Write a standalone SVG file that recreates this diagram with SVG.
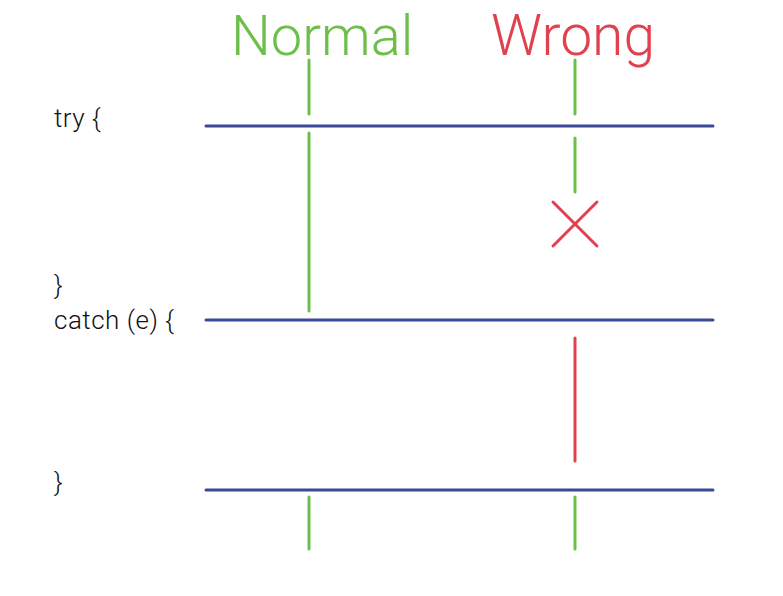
<svg xmlns="http://www.w3.org/2000/svg" width="783" height="596" viewBox="0 0 783 596">
<style>
.h{stroke:#3b4a98;stroke-width:3;stroke-linecap:round;fill:none}
.g{stroke:#6cbf4a;stroke-width:3;stroke-linecap:round;fill:none}
.r{stroke:#e1404f;stroke-width:3;stroke-linecap:round;fill:none}
.code{font-family:Roboto,"Liberation Sans",sans-serif;font-weight:300;font-size:26px;letter-spacing:0.5px;fill:#111}
.title{font-family:Roboto,"Liberation Sans",sans-serif;font-weight:300;font-size:56px}
</style>
<rect width="783" height="596" fill="#fff"/>
<g id="labels">
<text class="title" x="231" y="55" fill="#6cbf4a">Normal</text>
<text class="title" x="491" y="55" fill="#e1404f" style="font-size:57px">Wrong</text>
<text class="code" x="54" y="127">try {</text>
<text class="code" x="54" y="294">}</text>
<text class="code" x="54" y="329">catch (e) {</text>
<text class="code" x="54" y="491">}</text>
</g>
<g id="blocks">
<line class="h" x1="206" y1="126" x2="713" y2="126"/>
<line class="h" x1="206" y1="320" x2="713" y2="320"/>
<line class="h" x1="206" y1="490" x2="713" y2="490"/>
</g>
<g id="connectors">
<line class="g" x1="309" y1="60" x2="309" y2="114"/>
<line class="g" x1="309" y1="133" x2="309" y2="311"/>
<line class="g" x1="309" y1="497" x2="309" y2="549"/>
<line class="g" x1="575" y1="60" x2="575" y2="114"/>
<line class="g" x1="575" y1="138" x2="575" y2="192"/>
<line class="r" x1="553" y1="202" x2="597" y2="246"/>
<line class="r" x1="597" y1="202" x2="553" y2="246"/>
<line class="r" x1="575" y1="338" x2="575" y2="461"/>
<line class="g" x1="575" y1="497" x2="575" y2="549"/>
</g>
</svg>
